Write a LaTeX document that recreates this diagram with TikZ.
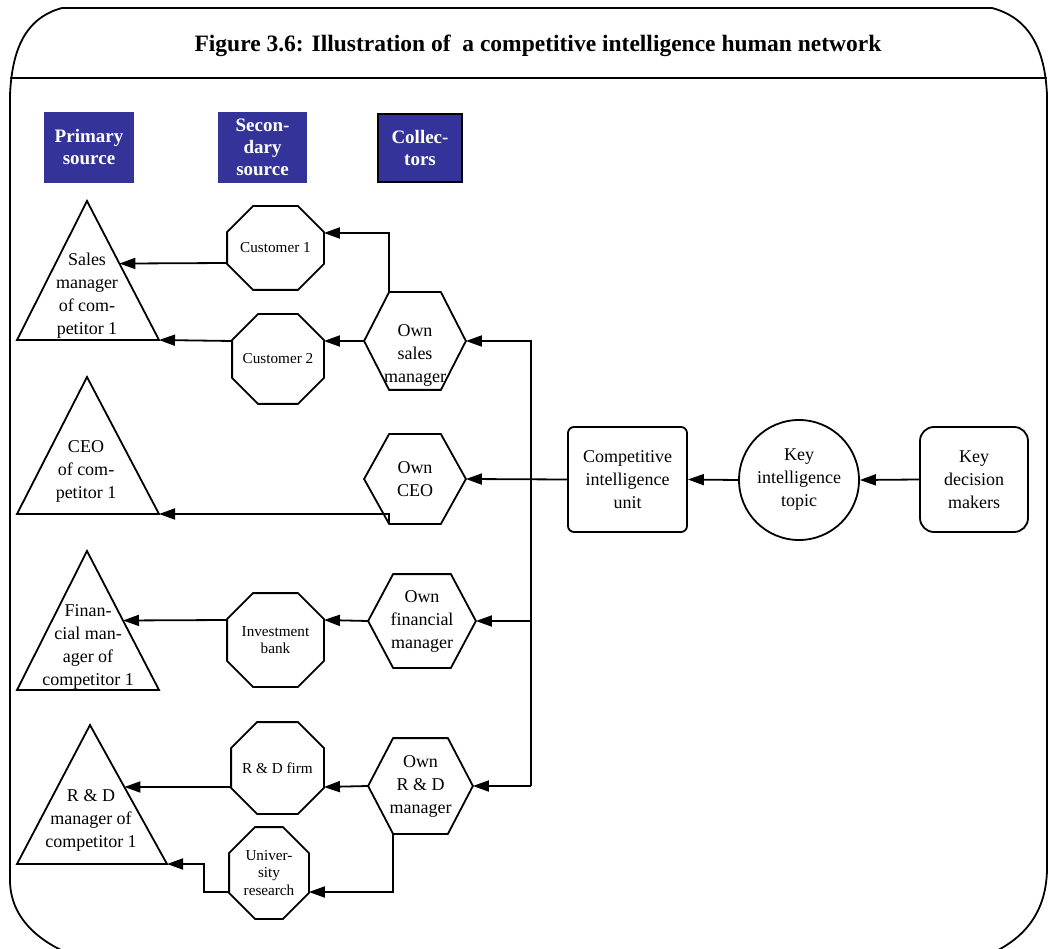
\documentclass[tikz,border=0pt]{standalone}
\usepackage{fontspec}
\setmainfont{Liberation Serif}
\usetikzlibrary{arrows.meta,calc}
\definecolor{HdrBlue}{HTML}{333399}

\begin{document}
\begin{tikzpicture}[x=1pt,y=-1pt,>={Triangle[length=16pt,width=11pt]},line width=1.8pt,
    every node/.style={font=\fontsize{18}{23}\selectfont,align=center,inner sep=0pt},
    hdrbox/.style={fill=HdrBlue,text=white,minimum width=90pt,minimum height=71pt,
      font=\fontsize{19}{22}\selectfont\bfseries},
    octbox/.style={font=\fontsize{15.2}{17.5}\selectfont,
      append after command={\pgfextra{\let\octname\tikzlastnode
        \draw ([xshift=26pt]\octname.north west) -- ([xshift=-26pt]\octname.north east)
          -- ([yshift=-26pt]\octname.north east) -- ([yshift=26pt]\octname.south east)
          -- ([xshift=-26pt]\octname.south east) -- ([xshift=26pt]\octname.south west)
          -- ([yshift=26pt]\octname.south west) -- ([yshift=-26pt]\octname.north west) -- cycle;}}},
    hexbox/.style={
      append after command={\pgfextra{\let\hexname\tikzlastnode
        \draw (\hexname.west) -- ([xshift=25pt]\hexname.north west) -- ([xshift=-25pt]\hexname.north east)
          -- (\hexname.east) -- ([xshift=-25pt]\hexname.south east) -- ([xshift=25pt]\hexname.south west) -- cycle;}}},
    unitbox/.style={draw,rounded corners=6pt,minimum width=119pt,minimum height=105pt}]
  \useasboundingbox (0,0) rectangle (1050,949);

  \draw (80,958) .. controls (35,942) and (10,915) .. (10,880) -- (10,95)
    .. controls (12,50) and (25,18) .. (62,8) -- (992,8)
    .. controls (1030,18) and (1045,50) .. (1047,95) -- (1047,870)
    .. controls (1046,915) and (1022,944) .. (975,960);
  \draw (10,78) -- (1047,78);
  \node[font=\fontsize{23.5}{26}\selectfont\bfseries] (title) at (538,46)
    {Figure 3.6: Illustration of \ a competitive intelligence human network};

  \node[hdrbox] (hdrprim) at (89,147.5) {Primary\\source};
  \node[hdrbox,minimum width=89pt] (hdrsec) at (262.5,147.5) {Secon-\\dary\\source};
  \node[hdrbox,draw=black,minimum width=84pt,minimum height=68pt] (hdrcol) at (420,148) {Collec-\\tors};

  \coordinate (t1top) at (87,201);
  \coordinate (t1left) at (17,340);
  \coordinate (t1right) at (159,340);
  \coordinate (t2top) at (87,377);
  \coordinate (t2left) at (17,514);
  \coordinate (t2right) at (159,514);
  \coordinate (t3top) at (87,551);
  \coordinate (t3left) at (17,690);
  \coordinate (t3right) at (159,690);
  \coordinate (t4top) at (90,725);
  \coordinate (t4left) at (17,864);
  \coordinate (t4right) at (167,864);
  \foreach \tri in {t1,t2,t3,t4}
    \draw (\tri top) -- (\tri right) -- (\tri left) -- cycle;
  \node (t1) at (87,296) {Sales\\manager\\of com-\\petitor 1};
  \node (t2) at (86,471) {CEO\\of com-\\petitor 1};
  \node[font=\fontsize{18}{22.7}\selectfont] (t3) at (88,647) {Finan-\\cial man-\\ager of\\competitor 1};
  \node (t4) at (91,820) {R \& D\\manager of\\competitor 1};

  \node[octbox,minimum width=95pt,minimum height=82pt] (cust1) at (275.5,248) {Customer 1};
  \node[octbox,minimum width=90pt,minimum height=88pt] (cust2) at (278,359) {Customer 2};
  \node[octbox,minimum width=95pt,minimum height=92pt] (invbank) at (275.5,640) {Investment\\bank};
  \node[octbox,minimum width=91pt,minimum height=90pt] (rdfirm) at (277.5,768) {R \& D firm};
  \node[octbox,minimum width=78pt,minimum height=90pt] (univ) at (269,873) {Univer-\\sity\\research};

  \node[hexbox,minimum width=100pt,minimum height=96pt] (hsales) at (415,341)
    {\raisebox{-14pt}[\height][\depth]{\begin{tabular}{@{}c@{}}Own\\sales\\manager\end{tabular}}};
  \node[hexbox,minimum width=100pt,minimum height=88pt] (hceo) at (415,479) {Own\\CEO};
  \node[hexbox,minimum width=106pt,minimum height=92pt] (hfin) at (422,621) {Own\\financial\\manager};
  \node[hexbox,minimum width=103pt,minimum height=94pt] (hrd) at (420.5,786) {Own\\R \& D\\manager};

  \node[unitbox] (ciu) at (627.5,479.5) {Competitive\\intelligence\\unit};
  \node[draw,circle,minimum size=120pt] (kit) at (799,480) {Key\\intelligence\\topic};
  \node[unitbox,minimum width=108pt,rounded corners=14pt] (kdm) at (974,479.5) {Key\\decision\\makers};

  \coordinate (bustop) at (531,341);
  \coordinate (busbot) at (531,786);

  \draw[->] (kdm.west) -- (kit.east);
  \draw[->] (kit.west) -- (ciu.east);
  \draw[->] (ciu.west) -- (hceo.east);
  \draw[->] (busbot) -- (bustop) -- (hsales.east);
  \draw[->] (bustop |- hfin.east) -- (hfin.east);
  \draw[->] (busbot) -- (hrd.east);

  \draw[->] ([xshift=25pt]hsales.north west) |- ([yshift=15pt]cust1.east);
  \draw[->] (hsales.west) -- ([yshift=18pt]cust2.east);
  \draw[->] ([xshift=25pt]hceo.south west) |- (t2right);
  \draw[->] (hfin.west) -- ([yshift=20pt]invbank.east);
  \draw[->] (hrd.west) -- ([yshift=-19pt]rdfirm.east);
  \draw[->] ([xshift=25pt]hrd.south west) |- ([yshift=-19pt]univ.east);

  \draw[->] ([yshift=-15pt]cust1.west) -- ($(t1top)!0.45!(t1right)$);
  \draw[->] ([yshift=18pt]cust2.west) -- (t1right);
  \draw[->] ([yshift=20pt]invbank.west) -- ($(t3top)!0.5!(t3right)$);
  \draw[->] ([yshift=-19pt]rdfirm.west) -- ($(t4top)!0.446!(t4right)$);
  \draw[->] ([yshift=-19pt]univ.west) -- ++(-25,0) |- (t4right);
\end{tikzpicture}
\end{document}
